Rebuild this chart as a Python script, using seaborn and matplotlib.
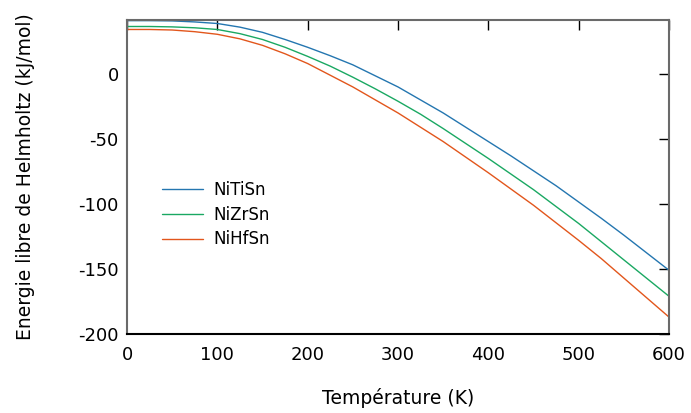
import numpy as np
import matplotlib
matplotlib.use('Agg')
import matplotlib.pyplot as plt
import seaborn as sns
import pandas as pd

temperature = [0, 25, 50, 75, 100, 125, 150, 175, 200, 225, 250, 275, 300,
               325, 350, 375, 400, 425, 450, 475, 500, 525, 550, 575, 600]
f_nitisn = [41, 41, 40.8, 40, 38.8, 36, 32, 26.5, 20.5, 14, 7, -1.5, -10,
            -20, -30, -41, -52, -63, -74.5, -86, -98.5, -111, -124, -137.5, -151]
f_nizrsn = [36.5, 36.5, 36.2, 35.5, 34.2, 31, 26.5, 20.5, 13.5, 6, -2.5, -11.5, -21,
            -31, -42, -53.5, -65, -77, -89, -102, -115, -129, -143, -157, -171]
f_nihfsn = [34.2, 34.2, 33.8, 32.5, 30.5, 27, 22, 15.5, 8, -1, -10, -20, -30,
            -41, -52, -64, -76, -88.5, -101, -114.5, -128, -142, -157, -172, -187]
names = ['NiTiSn', 'NiZrSn', 'NiHfSn']
colors = ['#2476b0', '#1aa862', '#e2561c']

sns.set_style('white')
plt.rcParams['font.family'] = ['DejaVu Sans']
plt.rcParams['axes.unicode_minus'] = False
plt.rcParams['text.color'] = 'black'

df = pd.DataFrame({
    'T': temperature * 3,
    'F': f_nitisn + f_nizrsn + f_nihfsn,
    'compound': [n for n in names for _ in temperature],
})

fig = plt.figure(figsize=(6.91, 4.13), dpi=100)
ax = fig.add_axes([0.1838, 0.1913, 0.7844, 0.7603])
sns.lineplot(data=df, x='T', y='F', hue='compound', palette=colors,
             hue_order=names, linewidth=1.0, ax=ax)

ax.set_xlim(0, 600)
ax.set_ylim(-200, 41.5)
ax.set_xticks([0, 100, 200, 300, 400, 500, 600])
ax.set_yticks([-200, -150, -100, -50, 0])
ax.tick_params(direction='in', length=7, width=1, top=True, right=True,
               labelsize=13, colors='black')
ax.tick_params(axis='x', pad=9)
ax.tick_params(axis='y', pad=6)
for side in ['left', 'right', 'top']:
    ax.spines[side].set_color('#6a6a6a')
    ax.spines[side].set_linewidth(1.5)
ax.spines['bottom'].set_color('black')
ax.spines['bottom'].set_linewidth(1.5)

ax.set_xlabel('Température (K)', fontsize=13.5, labelpad=17, color='black')
ax.set_ylabel('Energie libre de Helmholtz (kJ/mol)', fontsize=13.5,
              labelpad=31, color='black')

leg = ax.legend(frameon=False, loc='upper left', bbox_to_anchor=(0.037, 0.535),
                fontsize=12, handlelength=2.45, labelspacing=0.4, handletextpad=0.65)
for t in leg.get_texts():
    t.set_color('black')

fig.savefig('out.png', dpi=100)
